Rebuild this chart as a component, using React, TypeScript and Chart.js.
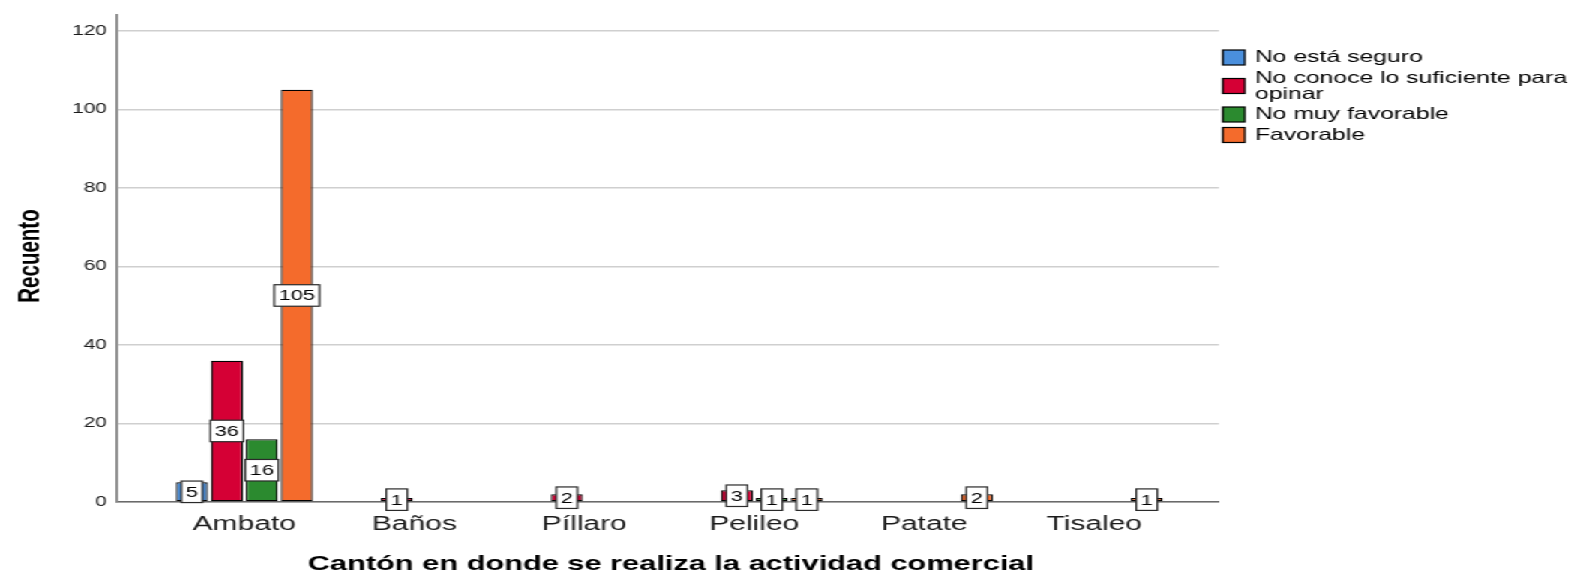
import { useEffect, useRef } from 'react';
import { Chart, registerables } from 'chart.js';

Chart.register(...registerables);

// ---- data ----
const categories = ['Ambato', 'Baños', 'Píllaro', 'Pelileo', 'Patate', 'Tisaleo'];
const seriesNames = [
  'No está seguro',
  'No conoce lo suficiente para opinar',
  'No muy favorable',
  'Favorable',
];
const noEstaSeguro: (number | null)[] = [5, null, null, null, null, null];
const noConoce: (number | null)[] = [36, 1, 2, 3, null, null];
const noMuyFavorable: (number | null)[] = [16, null, null, 1, null, null];
const favorable: (number | null)[] = [105, null, null, 1, 2, 1];
const yTicks = [0, 20, 40, 60, 80, 100, 120];
const xTitle = 'Cantón en donde se realiza la actividad comercial';
const yTitle = 'Recuento';

// ---- style ----
const seriesColors = ['#4a8fdc', '#d50035', '#2b8a2f', '#f46b2c'];
const FONT = "'Liberation Sans', Arial, sans-serif";
const STRETCH = 1.5;
const W = Math.round(1575 / STRETCH);
const H = 571;

const seriesValues = [noEstaSeguro, noConoce, noMuyFavorable, favorable];

const spssPlugin = {
  id: 'spssDecor',
  afterDatasetsDraw(chart: any) {
    const ctx = chart.ctx as CanvasRenderingContext2D;
    ctx.save();
    ctx.font = `14.5px ${FONT}`;
    ctx.textAlign = 'center';
    ctx.textBaseline = 'middle';
    chart.data.datasets.forEach((ds: any, di: number) => {
      const meta = chart.getDatasetMeta(di);
      meta.data.forEach((el: any, i: number) => {
        const v = ds.data[i].y;
        if (v == null) return;
        const cy = (el.y + el.base) / 2;
        const label = String(v);
        const tw = ctx.measureText(label).width;
        const bw = tw + 6;
        const bh = 21.5;
        ctx.fillStyle = '#ffffff';
        ctx.fillRect(el.x - bw / 2, cy - bh / 2, bw, bh);
        ctx.strokeStyle = '#2a2a2a';
        ctx.lineWidth = 1.2;
        ctx.strokeRect(el.x - bw / 2, cy - bh / 2, bw, bh);
        ctx.fillStyle = '#000';
        ctx.fillText(label, el.x, cy + 1);
      });
    });
    ctx.restore();
  },
  afterDraw(chart: any) {
    const ctx = chart.ctx as CanvasRenderingContext2D;
    const xs = chart.scales.x;
    const area = chart.chartArea;
    ctx.save();
    // x category labels
    ctx.font = `20px ${FONT}`;
    ctx.fillStyle = '#1a1a1a';
    ctx.textAlign = 'center';
    ctx.textBaseline = 'alphabetic';
    categories.forEach((c, i) => {
      ctx.fillText(c, xs.getPixelForValue(i), 530);
    });
    // x title
    ctx.font = `bold 20.5px ${FONT}`;
    ctx.fillStyle = '#000';
    ctx.fillText(xTitle, (area.left + area.right) / 2 + 2, 569.5);
    // y title
    ctx.save();
    ctx.translate(25.5, 256);
    ctx.rotate(-Math.PI / 2);
    ctx.font = `bold 20.5px ${FONT}`;
    ctx.fillText(yTitle, 0, 0);
    ctx.restore();
    // legend
    ctx.font = `16.5px ${FONT}`;
    ctx.textAlign = 'left';
    ctx.textBaseline = 'middle';
    const boxX = 815.3;
    const textX = 836.7;
    const maxW = W - textX - 0.5;
    let y = 57.5;
    seriesNames.forEach((name, si) => {
      const words = name.split(' ');
      const lines: string[] = [];
      let cur = '';
      words.forEach((w) => {
        const t = cur ? cur + ' ' + w : w;
        if (cur && ctx.measureText(t).width > maxW) {
          lines.push(cur);
          cur = w;
        } else cur = t;
      });
      if (cur) lines.push(cur);
      const lh = 16;
      lines.forEach((ln, li) => {
        ctx.fillStyle = '#000';
        ctx.fillText(ln, textX, y + li * lh);
      });
      const cy = y + ((lines.length - 1) * lh) / 2;
      ctx.fillStyle = seriesColors[si];
      ctx.fillRect(boxX, cy - 7.5, 14.7, 15);
      ctx.strokeStyle = '#000';
      ctx.lineWidth = 1.2;
      ctx.strokeRect(boxX, cy - 7.5, 14.7, 15);
      y += (lines.length - 1) * lh + 20.5;
    });
    ctx.restore();
  },
};

export default function App() {
  const ref = useRef<HTMLCanvasElement | null>(null);
  useEffect(() => {
    if (!ref.current) return;
    const chart = new Chart(ref.current, {
      type: 'bar',
      data: {
        datasets: seriesNames.map((name, si) => ({
          label: name,
          data: categories.map((_, i) => ({ x: i, y: seriesValues[si][i] })),
          backgroundColor: seriesColors[si],
          borderColor: '#000',
          borderWidth: 1.25,
          borderSkipped: false,
          categoryPercentage: 0.8235,
          barPercentage: 0.914,
        })),
      } as any,
      options: {
        animation: false,
        responsive: false,
        maintainAspectRatio: false,
        devicePixelRatio: 1,
        layout: { padding: { top: 14, right: W - 812.7, left: 0, bottom: 0 } },
        plugins: {
          legend: { display: false },
          tooltip: { enabled: false },
        },
        scales: {
          x: {
            type: 'linear',
            min: -0.75,
            max: 5.733,
            offset: false,
            grid: { display: false, drawTicks: false },
            border: { display: true, color: '#6a6a6a', width: 1.5 },
            ticks: { display: false },
            afterBuildTicks: (s: any) => {
              s.ticks = categories.map((_, i) => ({ value: i }));
            },
            afterFit: (s: any) => {
              s.height = H - 502;
            },
          },
          y: {
            type: 'linear',
            min: 0,
            max: 124,
            grid: { color: '#cfcfcf', lineWidth: 1.5, drawTicks: false },
            border: { display: true, color: '#8a8a8a', width: 1.8 },
            ticks: {
              padding: 6.7,
              color: '#1a1a1a',
              font: { family: FONT, size: 14 },
            },
            afterBuildTicks: (s: any) => {
              s.ticks = yTicks.map((v) => ({ value: v }));
            },
            afterFit: (s: any) => {
              s.width = 78;
            },
          },
        },
      } as any,
      plugins: [spssPlugin],
    });
    return () => chart.destroy();
  }, []);

  return (
    <div
      style={{
        position: 'fixed',
        left: 0,
        top: 0,
        width: W,
        height: H,
        background: '#fff',
        transform: `scaleX(${1575 / W})`,
        transformOrigin: '0 0',
      }}
    >
      <canvas ref={ref} width={W} height={H} style={{ display: 'block' }} />
    </div>
  );
}
